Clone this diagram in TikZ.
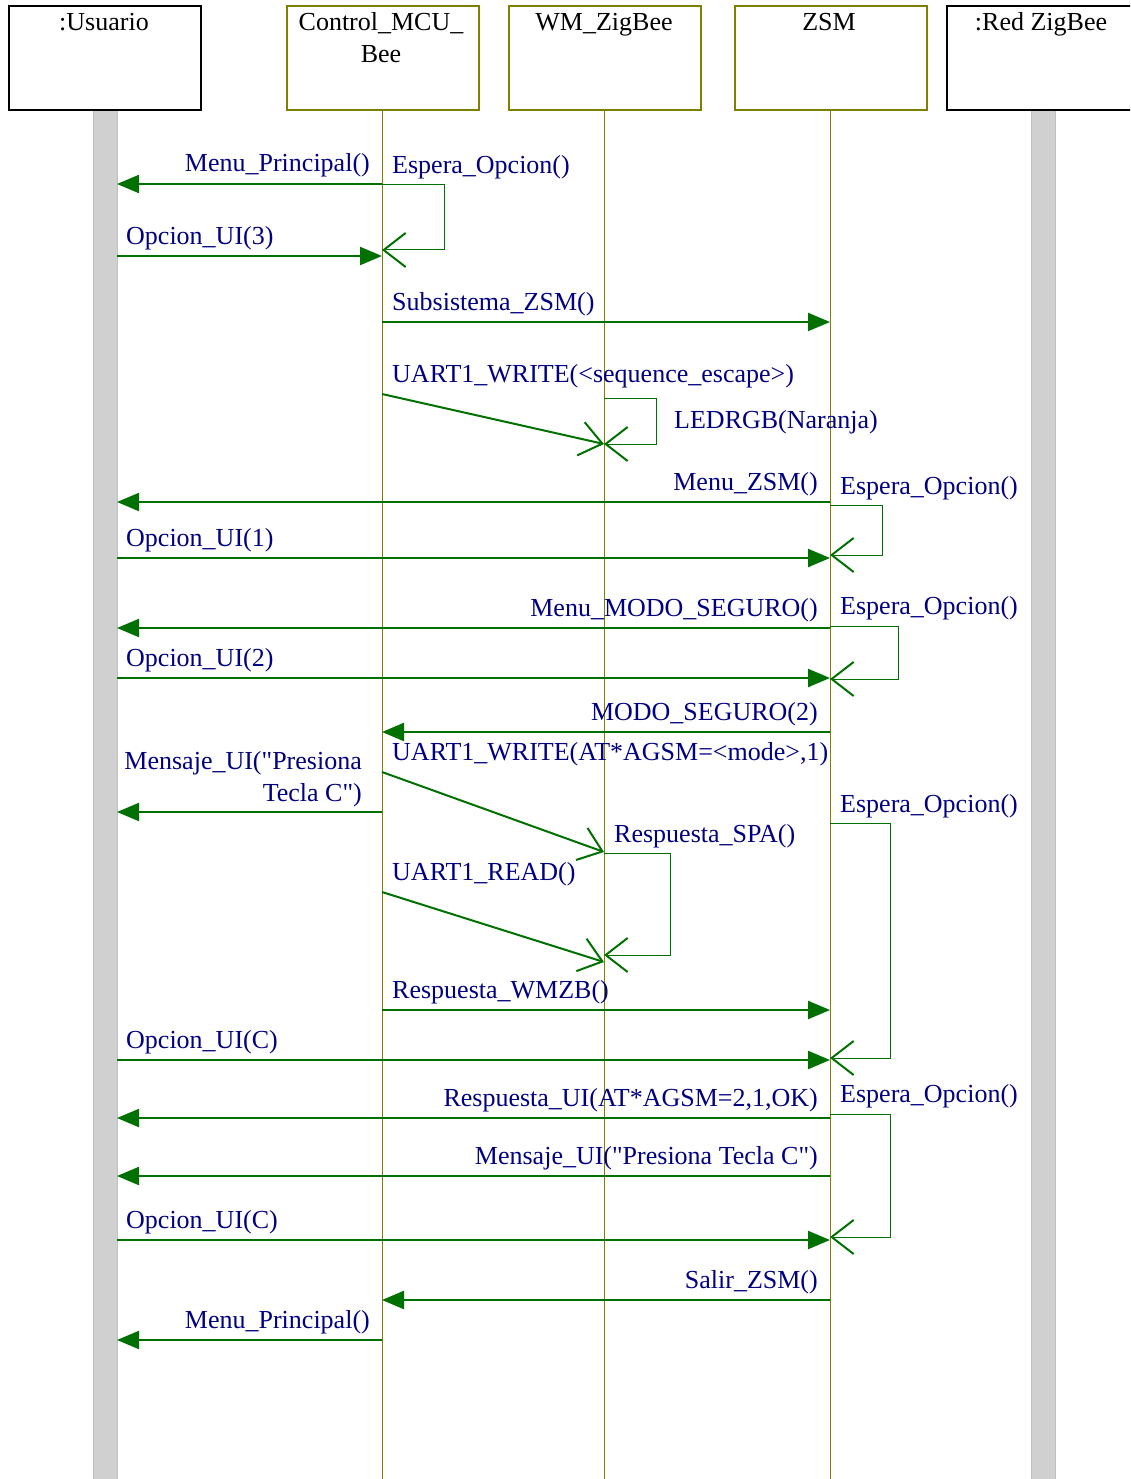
\documentclass[tikz,border=0pt]{standalone}
\usepackage{fontspec}
\newfontfamily\diagfont{Liberation Serif}
\usetikzlibrary{arrows.meta}
\definecolor{olivebox}{RGB}{128,128,0}
\definecolor{msggreen}{RGB}{0,112,0}
\definecolor{navytext}{RGB}{0,0,128}
\definecolor{barfill}{RGB}{208,208,208}
\begin{document}
\begin{tikzpicture}[x=1pt,y=-1pt,
  objbox/.style={draw=olivebox, line width=1.6pt, fill=white, minimum width=192pt, minimum height=104pt, inner sep=0pt},
  actorbox/.style={objbox, draw=black},
  title/.style={anchor=base, inner sep=0pt, font=\diagfont\fontsize{26}{32}\selectfont, text=black, align=center},
  lifeline/.style={draw=olivebox, line width=0.8pt},
  actorbar/.style={fill=barfill, draw=gray!50, line width=0.4pt},
  msg/.style={draw=msggreen, line width=2.2pt, -{Triangle[length=22pt,width=18pt]}},
  call/.style={draw=msggreen, line width=2pt, -{Straight Barb[length=22pt,width=34pt,line width=2pt]}},
  selfloop/.style={draw=msggreen, line width=1pt, -{Straight Barb[length=22pt,width=34pt,line width=2pt]}},
  lbl/.style={inner sep=0pt, text=navytext, font=\diagfont\fontsize{26}{32}\selectfont},
  lblL/.style={lbl, anchor=base west},
  lblR/.style={lbl, anchor=base east}
]
\useasboundingbox (0,0) rectangle (1130,1479);
\clip (0,0) rectangle (1130,1479);

% actor bars
\draw[actorbar] (93,110) rectangle (117,1485);
\draw[actorbar] (1031,110) rectangle (1055,1485);

% object boxes
\node[actorbox] (usr) at (105,58) {};
\node[objbox]   (ctl) at (383,58) {};
\node[objbox]   (wm)  at (605,58) {};
\node[objbox]   (zsm) at (831,58) {};
\node[actorbox] (red) at (1043,58) {};

\node[title] (tusr) at (104,31) {:Usuario};
\node[title] (tctl) at (381,63) {Control\_MCU\_\\Bee};
\node[title] (twm)  at (604,31) {WM\_ZigBee};
\node[title] (tzsm) at (829,31) {ZSM};
\node[title] (tred) at (1041,31) {:Red ZigBee};

% lifelines
\coordinate (uL) at (117,110);
\coordinate (cL) at (382,110);
\coordinate (wL) at (604,110);
\coordinate (zL) at (830,110);
\draw[lifeline] (cL) -- (cL |- 0,1479);
\draw[lifeline] (wL) -- (wL |- 0,1479);
\draw[lifeline] (zL) -- (zL |- 0,1479);

% Menu principal / option 3
\draw[msg] (cL |- 0,184) -- (uL |- 0,184);
\node[lblR] (m1) at (370,172) {Menu\_Principal()};
\draw[selfloop] (cL |- 0,185) -- (444,185) -- (444,250) -- (cL |- 0,250);
\node[lblL] (m2) at (392,174) {Espera\_Opcion()};
\draw[msg] (uL |- 0,256) -- (cL |- 0,256);
\node[lblL] (m3) at (126,244) {Opcion\_UI(3)};

% ZSM subsystem
\draw[msg] (cL |- 0,322) -- (zL |- 0,322);
\node[lblL] (m4) at (392,310) {Subsistema\_ZSM()};
\draw[call] (cL |- 0,394) -- (wL |- 0,444);
\node[lblL] (m5) at (392,382) {UART1\_WRITE(<sequence\_escape>)};
\draw[selfloop] (wL |- 0,398) -- (656,398) -- (656,444) -- (wL |- 0,444);
\node[lblL] (m6) at (674,428) {LEDRGB(Naranja)};

\draw[msg] (zL |- 0,502) -- (uL |- 0,502);
\node[lblR] (m7) at (818,490) {Menu\_ZSM()};
\draw[selfloop] (zL |- 0,505) -- (882,505) -- (882,555) -- (zL |- 0,555);
\node[lblL] (m8) at (840,494) {Espera\_Opcion()};
\draw[msg] (uL |- 0,558) -- (zL |- 0,558);
\node[lblL] (m9) at (126,546) {Opcion\_UI(1)};

% safe mode
\draw[msg] (zL |- 0,628) -- (uL |- 0,628);
\node[lblR] (m10) at (818,616) {Menu\_MODO\_SEGURO()};
\draw[selfloop] (zL |- 0,626) -- (898,626) -- (898,679) -- (zL |- 0,679);
\node[lblL] (m11) at (840,614) {Espera\_Opcion()};
\draw[msg] (uL |- 0,678) -- (zL |- 0,678);
\node[lblL] (m12) at (126,666) {Opcion\_UI(2)};

\draw[msg] (zL |- 0,732) -- (cL |- 0,732);
\node[lblR] (m13) at (818,720) {MODO\_SEGURO(2)};
\draw[msg] (cL |- 0,812) -- (uL |- 0,812);
\node[lbl, anchor=south east, align=right] (m14) at (362,807) {Mensaje\_UI("Presiona\\Tecla C")};
\draw[call] (cL |- 0,772) -- (wL |- 0,852);
\node[lblL] (m15) at (392,760) {UART1\_WRITE(AT*AGSM=<mode>,1)};
\draw[selfloop] (wL |- 0,853) -- (670,853) -- (670,955) -- (wL |- 0,955);
\node[lblL] (m16) at (614,842) {Respuesta\_SPA()};
\draw[call] (cL |- 0,892) -- (wL |- 0,962);
\node[lblL] (m17) at (392,880) {UART1\_READ()};
\draw[selfloop] (zL |- 0,823) -- (890,823) -- (890,1058) -- (zL |- 0,1058);
\node[lblL] (m18) at (840,812) {Espera\_Opcion()};
\draw[msg] (cL |- 0,1010) -- (zL |- 0,1010);
\node[lblL] (m19) at (392,998) {Respuesta\_WMZB()};
\draw[msg] (uL |- 0,1060) -- (zL |- 0,1060);
\node[lblL] (m20) at (126,1048) {Opcion\_UI(C)};

% confirmation
\draw[msg] (zL |- 0,1118) -- (uL |- 0,1118);
\node[lblR] (m21) at (818,1106) {Respuesta\_UI(AT*AGSM=2,1,OK)};
\draw[selfloop] (zL |- 0,1114) -- (890,1114) -- (890,1237) -- (zL |- 0,1237);
\node[lblL] (m22) at (840,1102) {Espera\_Opcion()};
\draw[msg] (zL |- 0,1176) -- (uL |- 0,1176);
\node[lblR] (m23) at (818,1164) {Mensaje\_UI("Presiona Tecla C")};
\draw[msg] (uL |- 0,1240) -- (zL |- 0,1240);
\node[lblL] (m24) at (126,1228) {Opcion\_UI(C)};

% exit
\draw[msg] (zL |- 0,1300) -- (cL |- 0,1300);
\node[lblR] (m25) at (818,1288) {Salir\_ZSM()};
\draw[msg] (cL |- 0,1340) -- (uL |- 0,1340);
\node[lblR] (m26) at (370,1328) {Menu\_Principal()};
\end{tikzpicture}
\end{document}
